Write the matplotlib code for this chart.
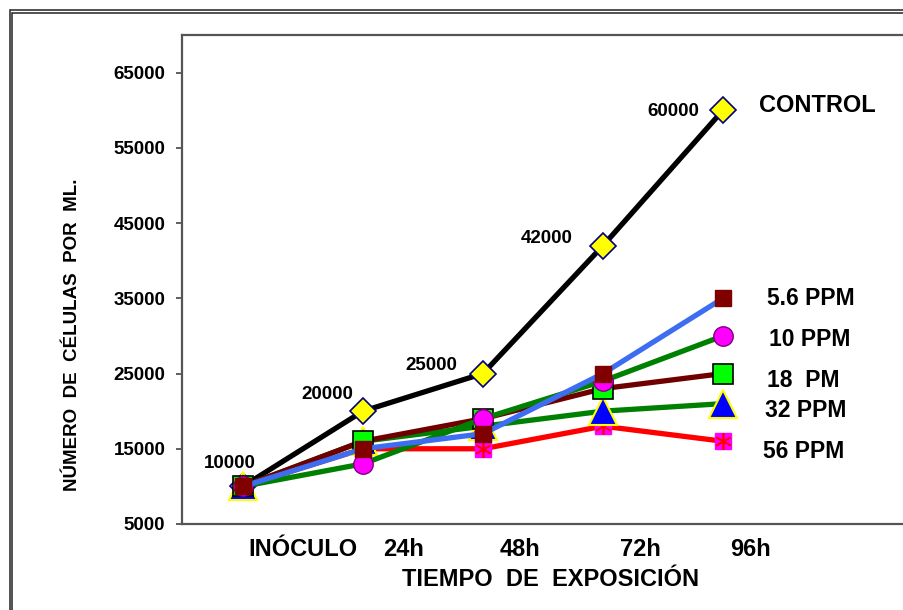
import matplotlib
matplotlib.use("Agg")
import matplotlib.pyplot as plt
from matplotlib.patches import Rectangle

plt.rcParams['font.family'] = ['Liberation Sans', 'DejaVu Sans']
plt.rcParams['font.weight'] = 'bold'

# data
times = [0, 1, 2, 3, 4]
time_labels = ['INÓCULO', '24h', '48h', '72h', '96h']
control = [10000, 20000, 25000, 42000, 60000]
ppm_5_6 = [10000, 15000, 17000, 25000, 35000]
ppm_10 = [10000, 13000, 19000, 24000, 30000]
ppm_18 = [10000, 16000, 19000, 23000, 25000]
ppm_32 = [10000, 16000, 18000, 20000, 21000]
ppm_56 = [10000, 15000, 15000, 18000, 16000]
y_ticks = [5000, 15000, 25000, 35000, 45000, 55000, 65000]

fig = plt.figure(figsize=(9.04, 6.10), dpi=100)
W, H = 904.0, 610.0
ax = fig.add_axes([182 / W, 1 - 524 / H, 728 / W, (524 - 35) / H])

# outer double frame (runs off the right and bottom of the picture)
for off in (9.5, 12.5):
    fig.add_artist(Rectangle((off / W, -0.2), 2.0, 1 - off / H + 0.2,
                             transform=fig.transFigure, fill=False,
                             ec='#222222', lw=1.1))

lw = 3.8
# control
ax.plot(times, control, color='black', lw=lw, marker='D', ms=13,
        mfc='#FFFF00', mec='#000080', mew=1.2, zorder=3)
# 56 PPM
ax.plot(times, ppm_56, color='#FF0000', lw=lw, marker='s', ms=12,
        mfc='#FF00FF', mec='#FF00FF', zorder=4)
ax.plot(times, ppm_56, ls='none', marker=(6, 2, 0), ms=12,
        mec='#FF0000', mew=1.2, zorder=4)
# 32 PPM
ax.plot(times, ppm_32, color='#008000', lw=lw, marker='^', ms=20,
        mfc='#0000FF', mec='#FFFF00', mew=1.5, zorder=5)
# 18 PM
ax.plot(times, ppm_18, color='#700000', lw=lw, marker='s', ms=15,
        mfc='#00FF00', mec='black', mew=1.2, zorder=6)
# 10 PPM
ax.plot(times, ppm_10, color='#008000', lw=lw, marker='o', ms=14,
        mfc='#FF00FF', mec='#800080', mew=1.0, zorder=7)
# 5.6 PPM
ax.plot(times, ppm_5_6, color='#3D6EF2', lw=lw, marker='s', ms=12,
        mfc='#800000', mec='#800000', zorder=8)

# control value labels
lab_off = [(13, 23), (-10, 17), (-26, 8), (-30, 7), (-24, -1)]
for x, v, (dx, dy) in zip(times, control, lab_off):
    ax.annotate(f'{v}', (x, v), xytext=(dx * 0.72, dy * 0.72),
                textcoords='offset points', ha='right', va='center',
                fontsize=13.5, fontweight='bold', zorder=10)

# series names at the end of each line
names = ['CONTROL', '5.6 PPM', '10 PPM', '18  PM', '32 PPM', '56 PPM']
series = [control, ppm_5_6, ppm_10, ppm_18, ppm_32, ppm_56]
name_off = [(36, 5), (44, 0), (46, -4), (44, -7), (42, -7), (40, -10)]
name_size = [17, 16.5, 16.5, 16.5, 16.5, 16.5]
for name, s, (dx, dy), fs in zip(names, series, name_off, name_size):
    ax.annotate(name, (times[-1], s[-1]), xytext=(dx * 0.72, dy * 0.72),
                textcoords='offset points', ha='left', va='center',
                fontsize=fs, fontweight='bold')

ax.set_xlim(-0.508, 5.558)
ax.set_ylim(5000, 70000)
ax.set_yticks(y_ticks)
ax.set_yticklabels([str(t) for t in y_ticks], fontsize=13.5, fontweight='bold')
ax.tick_params(axis='y', length=4, width=1.2, color='#444444', pad=8)

label_pos = [0.496, 1.342, 2.308, 3.308, 4.225]
ax.set_xticks(label_pos)
ax.set_xticklabels(time_labels, fontsize=17, fontweight='bold')
ax.tick_params(axis='x', length=0, pad=10)

for side in ('left', 'bottom', 'top', 'right'):
    ax.spines[side].set_color('#555555')
    ax.spines[side].set_linewidth(1.6)

fig.text(551 / W, 1 - 580 / H, 'TIEMPO  DE  EXPOSICIÓN', ha='center',
         va='center', fontsize=17, fontweight='bold')
fig.text(73 / W, 1 - 335 / H, 'NÚMERO  DE  CÉLULAS  POR  ML.', rotation=90,
         ha='center', va='center', fontsize=13.5, fontweight='bold')

fig.savefig('out.png', dpi=100)
plt.close()
